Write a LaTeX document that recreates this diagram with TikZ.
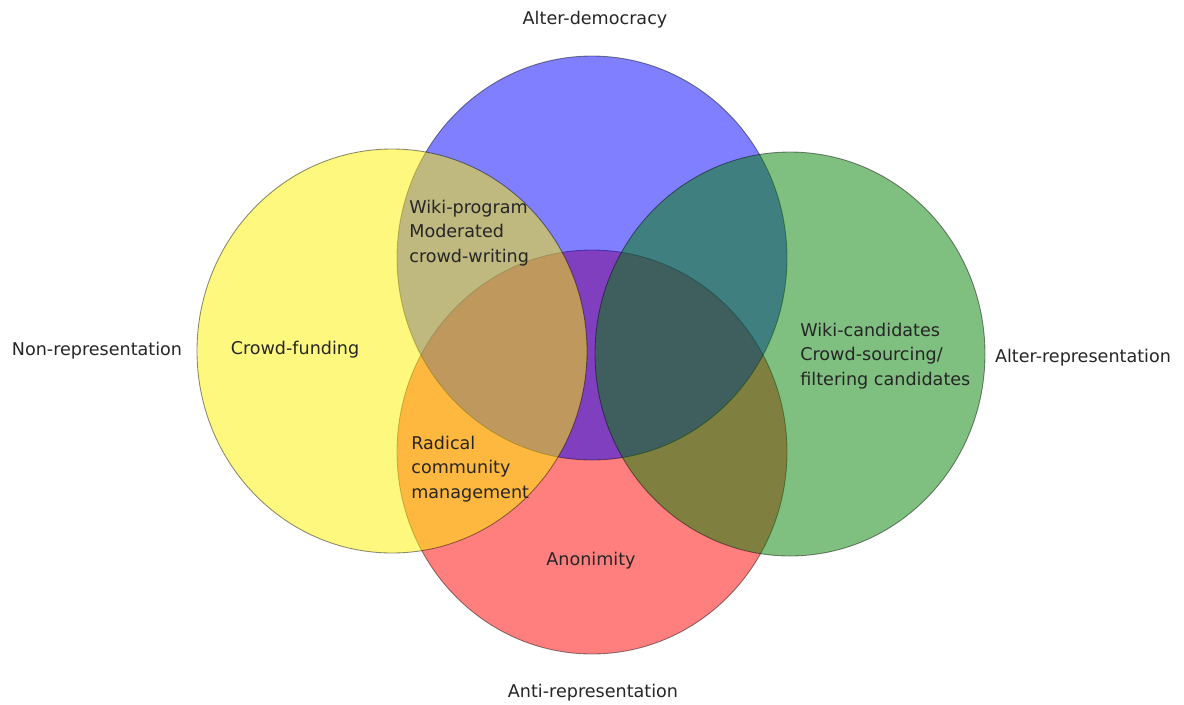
\documentclass[tikz,border=0pt]{standalone}
\usepackage{fontspec}
\setmainfont{DejaVu Sans}

\tikzset{
  setshape/.style={draw=black,draw opacity=0.45,fill opacity=0.5,line width=0.5pt},
  setname/.style={inner sep=0pt,text=black!85,font=\fontsize{10}{12}\selectfont},
  region/.style={inner sep=0pt,text=black!85,align=left,anchor=west,font=\fontsize{10}{13.8}\selectfont}
}

\begin{document}
\begin{tikzpicture}[x=0.02cm,y=-0.02cm]
\useasboundingbox (0,0) rectangle (1184,704);

% the four sets
\filldraw[setshape,fill=red] (592,452) ellipse [x radius=195, y radius=202];
\filldraw[setshape,fill=blue] (592,258) ellipse [x radius=195, y radius=202];
\filldraw[setshape,fill=yellow] (392,351) ellipse [x radius=195, y radius=202];
\filldraw[setshape,fill={rgb,255:red,0;green,128;blue,0}] (790,354) ellipse [x radius=195, y radius=202];

% names of the sets
\node[setname] (alterdem) at (595,20) {Alter-democracy};
\node[setname] (antirep) at (593,693) {Anti-representation};
\node[setname] (nonrep) at (97,351) {Non-representation};
\node[setname] (alterrep) at (1083,358) {Alter-representation};

% regions
\node[setname] (crowdfund) at (295,350) {Crowd-funding};
\node[setname] (anonim) at (591,561) {Anonimity};
\node[region] (wikiprog) at (409,233) {Wiki-program\\Moderated\\crowd-writing};
\node[region] (wikicand) at (800,356) {Wiki-candidates\\Crowd-sourcing/\\filtering candidates};
\node[region] (radical) at (411,469) {Radical\\community\\management};
\end{tikzpicture}
\end{document}
